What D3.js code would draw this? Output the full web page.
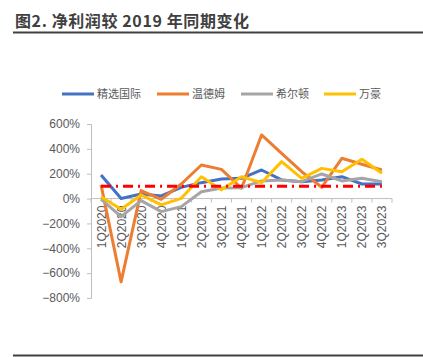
<!DOCTYPE html>
<html><head><meta charset="utf-8">
<script src="https://cdn.jsdelivr.net/npm/d3@7"></script>
<style>
html,body{margin:0;padding:0;background:#fff;}
svg{display:block;}
</style></head>
<body>
<svg id="chart" width="423" height="357"></svg>
<script>
const categories = ["1Q2020","2Q2020","3Q2020","4Q2020","1Q2021","2Q2021","3Q2021","4Q2021","1Q2022","2Q2022","3Q2022","4Q2022","1Q2023","2Q2023","3Q2023"];
const seriesNames = ["精选国际","温德姆","希尔顿","万豪"];
const jingxuan = [190, 0, 37, 21, 90, 128, 158, 163, 230, 150, 136, 150, 176, 117, 117];
const wendemu  = [110, -670, 64, -6, 117, 270, 235, 83, 512, 364, 216, 91, 324, 276, 230];
const xierdun  = [-5, -145, -17, -105, -65, 55, 85, 88, 142, 150, 136, 198, 142, 163, 136];
const wanhao   = [15, -86, 29, -51, 2, 176, 70, 176, 128, 297, 163, 243, 216, 316, 203];
const refLine  = categories.map(() => 100);
const yTicks = [600, 400, 200, 0, -200, -400, -600, -800];
const colors = ["#4472C4", "#ED7D31", "#A5A5A5", "#FFC000"];

const svg = d3.select("#chart");
const font = "'Liberation Sans', Arial, 'Noto Sans CJK SC', sans-serif";
const cjk = "'Noto Sans CJK SC', 'Liberation Sans', sans-serif";

// Title
svg.append("text").attr("x", 15).attr("y", 27)
  .attr("font-family", cjk).attr("font-size", 16).attr("font-weight", "bold")
  .attr("letter-spacing", 0.6)
  .attr("fill", "#404040").text("图2. 净利润较 2019 年同期变化");
svg.append("line").attr("x1", 13).attr("x2", 423).attr("y1", 32.5).attr("y2", 32.5)
  .attr("stroke", "#404040").attr("stroke-width", 2);
svg.append("line").attr("x1", 13).attr("x2", 423).attr("y1", 355.5).attr("y2", 355.5)
  .attr("stroke", "#404040").attr("stroke-width", 2);

const x = d3.scaleBand().domain(categories).range([91, 392]).paddingInner(0).paddingOuter(0);
const y = d3.scaleLinear().domain([-800, 600]).range([298, 124]);
const cx = d => x(d) + x.bandwidth() / 2;

// Y axis
const yAxis = svg.append("g").attr("transform", "translate(91,0)")
  .call(d3.axisLeft(y).tickValues(yTicks).tickSize(4).tickPadding(7).tickFormat(d => d + "%"));
yAxis.select(".domain").attr("stroke", "#BFBFBF");
yAxis.selectAll(".tick line").attr("stroke", "#BFBFBF");
yAxis.selectAll("text").attr("font-family", font).attr("font-size", 12).attr("fill", "#595959")
  .text(d => (d < 0 ? "\u2212" + Math.abs(d) : d) + "%");

// X axis at zero
const xg = svg.append("g").attr("transform", `translate(0,${y(0)})`);
xg.append("line").attr("x1", 91).attr("x2", 392).attr("stroke", "#BFBFBF");
const bounds = d3.range(categories.length + 1).map(i => 91 + i * x.bandwidth());
xg.selectAll("line.tk").data(bounds).join("line").attr("class", "tk")
  .attr("x1", d => d).attr("x2", d => d).attr("y1", 0).attr("y2", 4).attr("stroke", "#BFBFBF");
xg.selectAll("text").data(categories).join("text")
  .attr("transform", d => `translate(${cx(d) + 4.5},7) rotate(-90)`)
  .attr("text-anchor", "end")
  .attr("font-family", font).attr("font-size", 12).attr("fill", "#595959")
  .text(d => d);

// Series
const line = d3.line().x((d, i) => cx(categories[i])).y(d => y(d));
[jingxuan, wendemu, xierdun, wanhao].forEach((s, k) => {
  svg.append("path").datum(s).attr("d", line).attr("fill", "none")
    .attr("stroke", colors[k]).attr("stroke-width", 3).attr("stroke-linejoin", "round");
});
svg.append("path").datum(refLine).attr("d", line).attr("fill", "none")
  .attr("stroke", "#FF0000").attr("stroke-width", 3).attr("stroke-dasharray", "10,5,2,5");

// Legend
const legendX = [62, 157, 241, 324];
seriesNames.forEach((n, k) => {
  svg.append("line").attr("x1", legendX[k]).attr("x2", legendX[k] + 32)
    .attr("y1", 94).attr("y2", 94).attr("stroke", colors[k]).attr("stroke-width", 3);
  svg.append("text").attr("x", legendX[k] + 35).attr("y", 98)
    .attr("font-family", cjk).attr("font-size", 11).attr("fill", "#595959").text(n);
});
</script>
</body></html>
